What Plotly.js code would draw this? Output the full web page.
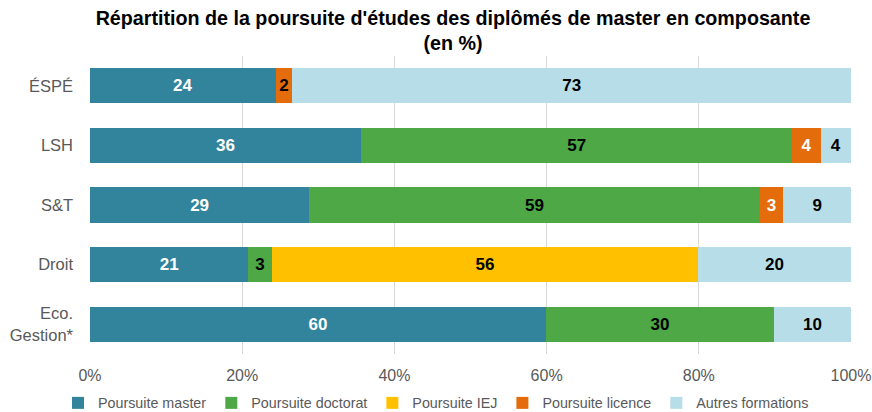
<!DOCTYPE html>
<html><head><meta charset="utf-8">
<script src="https://cdn.plot.ly/plotly-3.0.1.min.js"></script>
<style>body{margin:0;background:#fff}#chart{width:872px;height:412px}</style>
</head><body><div id="chart"></div>
<script>
var categories = ["ÉSPÉ", "LSH", "S&T", "Droit", "Eco.<br>Gestion*"];
var seriesNames = ["Poursuite master", "Poursuite doctorat", "Poursuite IEJ", "Poursuite licence", "Autres formations"];
var master   = [24.4, 35.6, 28.8, 20.8, 59.9];
var doctorat = [0, 56.7, 59.2, 3.1, 30.0];
var iej      = [0, 0, 0, 56.0, 0];
var licence  = [2.2, 3.7, 3.1, 0, 0];
var autres   = [73.4, 4.0, 8.9, 20.1, 10.1];
var colors = ["#31849B", "#4EA846", "#FFC000", "#E46C0A", "#B7DEE8"];
var textColors = [
  ["#fff","#fff","#fff","#fff","#fff"],
  ["#000","#000","#000","#000","#000"],
  ["#000","#000","#000","#000","#000"],
  ["#000","#fff","#fff","#fff","#fff"],
  ["#000","#000","#000","#000","#000"]
];
var allSeries = [master, doctorat, iej, licence, autres];
var traces = allSeries.map(function(vals, i){
  return {
    type: "bar", orientation: "h", name: seriesNames[i],
    y: categories, x: vals,
    marker: {color: colors[i], line: {width: 0}},
    text: vals.map(function(v){ return v > 0 ? String(Math.round(v)) : ""; }),
    textposition: "inside", insidetextanchor: "middle",
    textfont: {family: "Liberation Sans, Arial, sans-serif", size: 17, color: textColors[i], weight: "bold"},
    constraintext: "none",
    hoverinfo: "name+x"
  };
});
var layout = {
  width: 872, height: 412,
  barmode: "stack", bargap: 0.41,
  margin: {l: 90, r: 21, t: 56, b: 58, autoexpand: false},
  paper_bgcolor: "#fff", plot_bgcolor: "#fff",
  font: {family: "Liberation Sans, Arial, sans-serif", color: "#595959", size: 15},
  title: {text: "<b>Répartition de la poursuite d'études des diplômés de master en composante<br>(en %)</b>",
          font: {size: 19.7, color: "#000"}, x: 0.5195, xanchor: "center", xref: "container",
          y: 0.94, yanchor: "top", automargin: false},
  xaxis: {range: [0, 100], tickvals: [0,20,40,60,80,100], ticktext: ["0%","20%","40%","60%","80%","100%"],
          showgrid: true, gridcolor: "#D9D9D9", gridwidth: 1, zeroline: false, showline: false,
          ticks: "", tickfont: {size: 16, color: "#595959"}, ticklabelstandoff: 10, automargin: false},
  yaxis: {autorange: "reversed", showgrid: false, zeroline: false, ticks: "", showline: false,
          tickfont: {size: 16.5, color: "#595959"}, ticklabelstandoff: 16, automargin: false},
  legend: {orientation: "h", x: 0.5, xanchor: "center", xref: "container", y: -0.111, yanchor: "top", yref: "paper",
           font: {size: 14.3, color: "#595959"}, traceorder: "normal"},
  showlegend: true
};
Plotly.newPlot("chart", traces, layout, {displayModeBar: false, staticPlot: true});
</script></body></html>
